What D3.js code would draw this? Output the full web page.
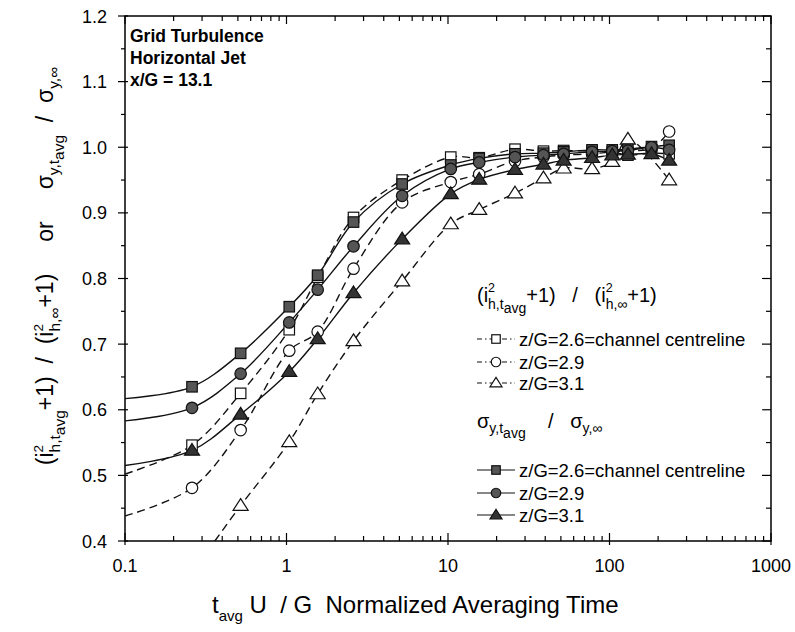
<!DOCTYPE html>
<html>
<head>
<meta charset="utf-8">
<script src="https://cdn.jsdelivr.net/npm/d3@7/dist/d3.min.js"></script>
<style>
  body { margin: 0; background: #fff; }
  svg { font-family: "Liberation Sans", Arial, Helvetica, sans-serif; }
</style>
</head>
<body>
<svg width="795" height="632"></svg>
<script>
// averaging times tavg U / G
const times = [0.26, 0.52, 1.04, 1.56, 2.6, 5.2, 10.4, 15.6, 26, 39, 52, 78, 104, 130, 182, 234];

// sigma_y,tavg / sigma_y,inf
const sigma26 = [0.635, 0.686, 0.757, 0.805, 0.886, 0.944, 0.973, 0.983, 0.990, 0.991, 0.993, 0.996, 0.996, 0.997, 1.001, 1.003];
const sigma29 = [0.603, 0.655, 0.733, 0.783, 0.849, 0.926, 0.967, 0.977, 0.985, 0.988, 0.990, 0.993, 0.994, 0.995, 1.000, 0.996];
const sigma31 = [0.538, 0.593, 0.658, 0.708, 0.778, 0.860, 0.929, 0.951, 0.966, 0.974, 0.980, 0.984, 0.988, 0.989, 0.990, 0.980];

// (i2 h,tavg + 1) / (i2 h,inf + 1)
const int26 = [0.546, 0.625, 0.722, 0.802, 0.893, 0.950, 0.985, 0.984, 0.997, 0.994, 0.995, 0.994, 0.993, 0.988, 0.991, 0.990];
const int29 = [0.481, 0.569, 0.690, 0.719, 0.815, 0.916, 0.947, 0.959, 0.979, 0.985, 0.988, 0.990, 0.993, 0.995, 0.998, 1.024];
const int31 = [null, 0.454, 0.551, 0.624, 0.705, 0.796, 0.883, 0.905, 0.930, 0.953, 0.968, 0.967, 0.978, 1.012, null, 0.950];

// where each fitted line starts at the left (no marker there)
const startTimes = [0.1, 0.1, 0.1, 0.1, 0.1, 0.36];
const startValues = [0.617, 0.583, 0.515, 0.502, 0.438, 0.40];

const xTicks = [0.1, 1, 10, 100, 1000];
const yTicks = [0.4, 0.5, 0.6, 0.7, 0.8, 0.9, 1.0, 1.1, 1.2];
const noteLines = ['Grid Turbulence', 'Horizontal Jet', 'x/G = 13.1'];
const legendLabels = ['z/G=2.6=channel centreline', 'z/G=2.9', 'z/G=3.1'];

const series = [
  {values: sigma26, marker: 'square', filled: true, dashed: false},
  {values: sigma29, marker: 'circle', filled: true, dashed: false},
  {values: sigma31, marker: 'triangle', filled: true, dashed: false},
  {values: int26, marker: 'square', filled: false, dashed: true},
  {values: int29, marker: 'circle', filled: false, dashed: true},
  {values: int31, marker: 'triangle', filled: false, dashed: true}
];
series.forEach((s, i) => {
  s.points = times.map((t, j) => ({t: t, v: s.values[j]})).filter(d => d.v != null);
  s.linePoints = [{t: startTimes[i], v: startValues[i]}].concat(s.points);
});

const svg = d3.select('svg');
const x = d3.scaleLog().domain([0.1, 1000]).range([125, 771]);
const y = d3.scaleLinear().domain([0.4, 1.2]).range([541, 16]);

// ticks
const minorX = [];
[0.1, 1, 10, 100].forEach(d => { for (let k = 2; k <= 9; k++) minorX.push(d * k); });
const minorY = d3.range(0.45, 1.2, 0.1);

const ticks = svg.append('g').attr('stroke', '#000').attr('stroke-width', 1.2);
ticks.selectAll('.xb').data(xTicks).enter().append('line')
  .attr('x1', d => x(d)).attr('x2', d => x(d)).attr('y1', y(0.4) + 4).attr('y2', y(0.4) - 8);
ticks.selectAll('.xbm').data(minorX).enter().append('line')
  .attr('x1', d => x(d)).attr('x2', d => x(d)).attr('y1', y(0.4)).attr('y2', y(0.4) - 5);
ticks.selectAll('.xt').data(xTicks).enter().append('line')
  .attr('x1', d => x(d)).attr('x2', d => x(d)).attr('y1', y(1.2)).attr('y2', y(1.2) + 8);
ticks.selectAll('.xtm').data(minorX).enter().append('line')
  .attr('x1', d => x(d)).attr('x2', d => x(d)).attr('y1', y(1.2)).attr('y2', y(1.2) + 5);
ticks.selectAll('.yl').data(yTicks).enter().append('line')
  .attr('x1', x(0.1) - 7).attr('x2', x(0.1) + 3).attr('y1', d => y(d)).attr('y2', d => y(d));
ticks.selectAll('.ylm').data(minorY).enter().append('line')
  .attr('x1', x(0.1) - 4).attr('x2', x(0.1)).attr('y1', d => y(d)).attr('y2', d => y(d));
ticks.selectAll('.yr').data(yTicks).enter().append('line')
  .attr('x1', x(1000) - 9).attr('x2', x(1000)).attr('y1', d => y(d)).attr('y2', d => y(d));
ticks.selectAll('.yrm').data(minorY).enter().append('line')
  .attr('x1', x(1000) - 5).attr('x2', x(1000)).attr('y1', d => y(d)).attr('y2', d => y(d));

svg.append('rect')
  .attr('x', x(0.1)).attr('y', y(1.2))
  .attr('width', x(1000) - x(0.1)).attr('height', y(0.4) - y(1.2))
  .attr('fill', 'none').attr('stroke', '#000').attr('stroke-width', 1.5);

// tick labels
svg.selectAll('.xlab').data(xTicks).enter().append('text')
  .attr('x', d => x(d)).attr('y', 572)
  .attr('text-anchor', 'middle').attr('font-size', 18)
  .text(d => d3.format('~g')(d));
svg.selectAll('.ylab').data(yTicks).enter().append('text')
  .attr('x', 107).attr('y', d => y(d) + 6.5)
  .attr('text-anchor', 'end').attr('font-size', 18)
  .text(d => d.toFixed(1));

// rich text helper: parts {t, s (size), y (baseline shift), dx}
function rich(sel, parts) {
  let cur = 0;
  parts.forEach(p => {
    sel.append('tspan')
      .attr('font-size', p.s)
      .attr('dy', (p.y || 0) - cur)
      .attr('dx', p.dx || 0)
      .text(p.t);
    cur = p.y || 0;
  });
  return sel;
}

// x axis title
rich(svg.append('text').attr('x', 212).attr('y', 613).style('white-space', 'pre'), [
  {t: 't', s: 24},
  {t: 'avg', s: 15, y: 8},
  {t: ' U  / G  Normalized Averaging Time', s: 24, y: 0}
]);

// y axis title
rich(svg.append('text')
  .attr('transform', 'translate(53,266) rotate(-90)')
  .attr('text-anchor', 'middle').style('white-space', 'pre'), [
  {t: '(i', s: 23},
  {t: '2', s: 13.5, y: -10.5},
  {t: 'h,t', s: 15.5, y: 6.5, dx: -7.5},
  {t: 'avg', s: 15.5, y: 11.5},
  {t: '+1)  /  (i', s: 23, y: 0},
  {t: '2', s: 13.5, y: -10.5},
  {t: 'h,\u221e', s: 15.5, y: 6.5, dx: -7.5},
  {t: '+1)     or     \u03c3', s: 23, y: 0},
  {t: 'y,t', s: 15.5, y: 6},
  {t: 'avg', s: 15.5, y: 11},
  {t: '  /  \u03c3', s: 23, y: 0},
  {t: 'y,\u221e', s: 15.5, y: 6}
]);

// note
svg.append('g').selectAll('text').data(noteLines).enter().append('text')
  .attr('x', 130).attr('y', (d, i) => 42 + i * 22)
  .attr('font-size', 17.5).attr('font-weight', 'bold')
  .text(d => d);

// markers
function marker(g, type, size) {
  if (type === 'square') {
    return g.append('rect').attr('x', -size / 2).attr('y', -size / 2).attr('width', size).attr('height', size);
  }
  if (type === 'circle') {
    return g.append('circle').attr('r', size / 2 + 0.5);
  }
  const h = size * 0.9;
  return g.append('path').attr('d', `M0,${-h * 0.62}L${size * 0.6},${h * 0.42}L${-size * 0.6},${h * 0.42}Z`);
}
function styleMarker(m, s) {
  m.attr('fill', s.filled ? (s.marker === 'triangle' ? '#333' : '#555') : '#fff')
    .attr('stroke', '#111').attr('stroke-width', 1.2);
}

svg.append('clipPath').attr('id', 'plot')
  .append('rect').attr('x', x(0.1)).attr('y', y(1.2))
  .attr('width', x(1000) - x(0.1)).attr('height', y(0.4) - y(1.2));

const line = d3.line()
  .x(d => x(d.t)).y(d => y(d.v))
  .curve(d3.curveCatmullRom.alpha(0.5));

const plot = svg.append('g').attr('clip-path', 'url(#plot)');
plot.selectAll('.series-line').data(series).enter().append('path')
  .attr('d', d => line(d.linePoints))
  .attr('fill', 'none').attr('stroke', '#111').attr('stroke-width', 1.4)
  .attr('stroke-dasharray', d => d.dashed ? '8,5' : null);

// open markers first, filled ones on top
const order = [3, 4, 5, 0, 1, 2];
order.forEach(i => {
  const s = series[i];
  s.points.forEach(p => {
    const g = plot.append('g').attr('transform', `translate(${x(p.t)},${y(p.v)})`);
    styleMarker(marker(g, s.marker, s.marker === 'triangle' ? 12.5 : 10.5), s);
  });
});

// legend
const legend = svg.append('g');
rich(legend.append('text').attr('x', 477).attr('y', 302).style('white-space', 'pre'), [
  {t: '(i', s: 20},
  {t: '2', s: 12.5, y: -10},
  {t: 'h,t', s: 14, y: 6.5, dx: -7},
  {t: 'avg', s: 14, y: 10.5},
  {t: '+1)   /   (i', s: 20, y: 0},
  {t: '2', s: 12.5, y: -10},
  {t: 'h,\u221e', s: 14, y: 6.5, dx: -7},
  {t: '+1)', s: 20, y: 0}
]);
rich(legend.append('text').attr('x', 477).attr('y', 428).style('white-space', 'pre'), [
  {t: '\u03c3', s: 20},
  {t: 'y,t', s: 14, y: 5},
  {t: 'avg', s: 14, y: 10},
  {t: '    /   \u03c3', s: 20, y: 0},
  {t: 'y,\u221e', s: 14, y: 5}
]);

const legendRows = [339, 362, 383, 470, 493, 515];
const legendOrder = [3, 4, 5, 0, 1, 2];
legendOrder.forEach((si, k) => {
  const s = series[si];
  const ly = legendRows[k];
  legend.append('line')
    .attr('x1', 477).attr('x2', 515).attr('y1', ly).attr('y2', ly)
    .attr('stroke', '#111').attr('stroke-width', 1.2)
    .attr('stroke-dasharray', s.dashed ? '5,3,1.5,3' : null);
  const g = legend.append('g').attr('transform', `translate(496,${ly})`);
  styleMarker(marker(g, s.marker, s.marker === 'triangle' ? 10 : 8.5), s);
  legend.append('text')
    .attr('x', 519).attr('y', ly + 6.5)
    .attr('font-size', 18.5)
    .text(legendLabels[k % 3]);
});
</script>
</body>
</html>
